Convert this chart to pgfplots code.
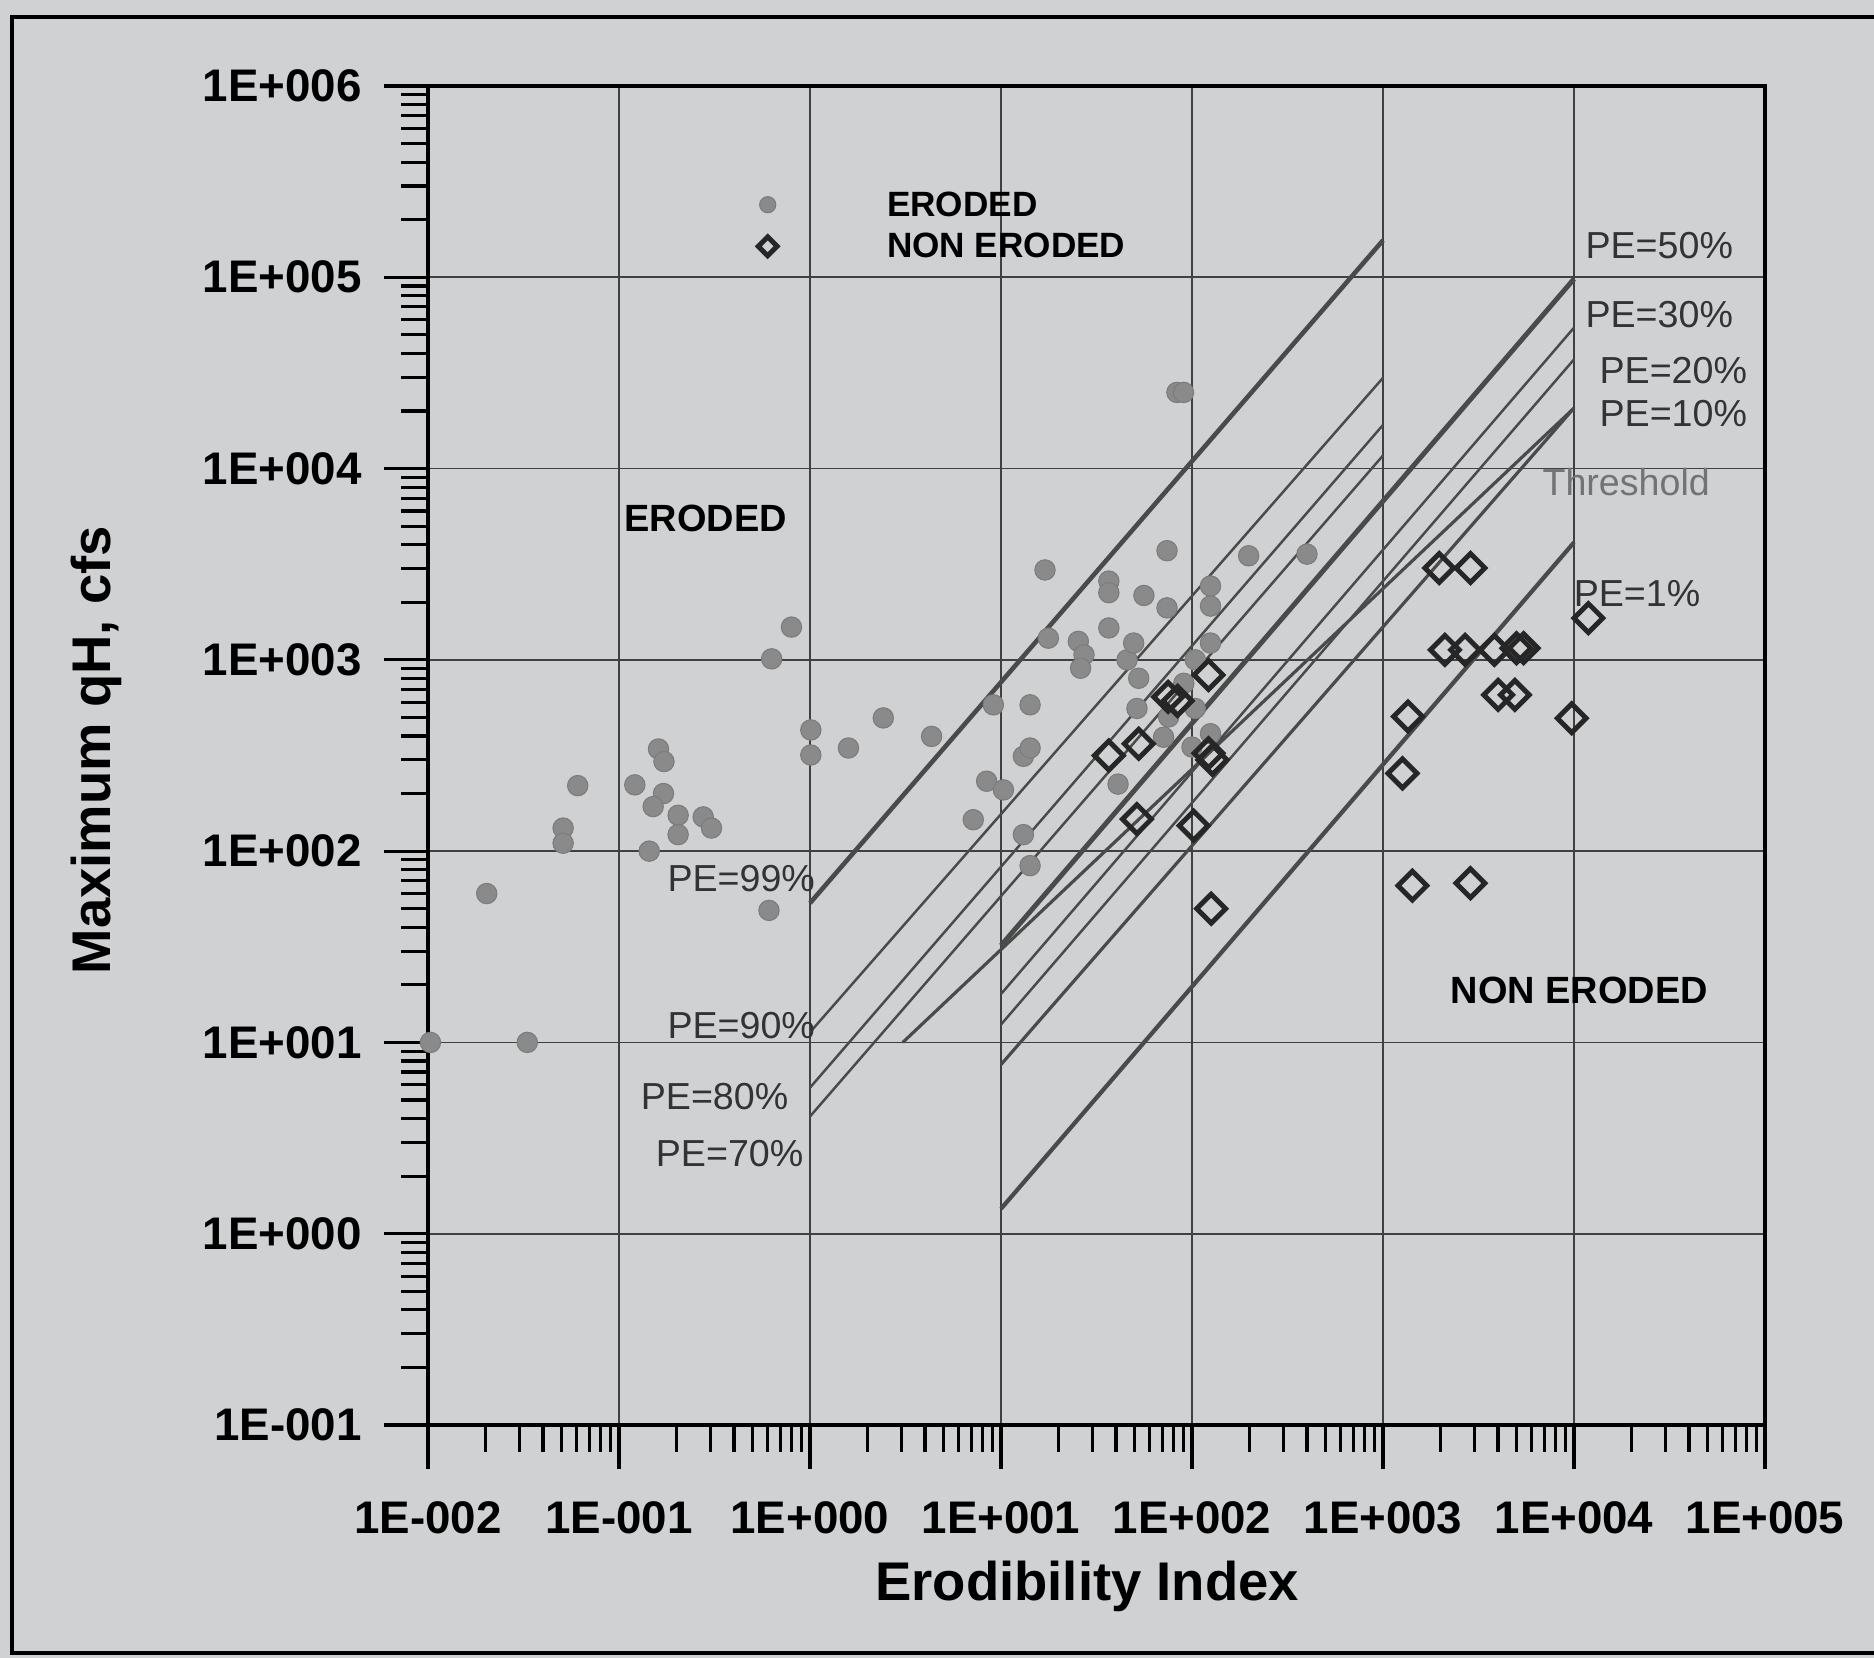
\documentclass[border=0pt]{standalone}
\usepackage{pgfplots}
\pgfplotsset{compat=1.18}
\usepackage{fontspec}
\setmainfont{Liberation Sans}
\definecolor{paper}{HTML}{CFD1D3}
\definecolor{dots}{HTML}{8A8A8A}
\definecolor{pelines}{HTML}{4A4A4A}
\definecolor{mrk}{HTML}{262626}
\pgfplotsset{
  eroimg/.style={legend image code/.code={\draw[##1, mark size=2.3pt] plot coordinates {(0cm,0.02cm)};}},
  nonimg/.style={legend image code/.code={\draw[##1, mark size=1.9pt, line width=0.9pt] plot coordinates {(0cm,0.02cm)};}},
}

\begin{document}
\begin{tikzpicture}
% scanned page background and frame
\path[use as bounding box, fill=paper] (-4.28,-2.33) rectangle (14.46,14.25);
\draw[line width=1.2pt] (14.46,14.08) -- (-4.16,14.08) -- (-4.16,-2.28) -- (14.46,-2.28);

\begin{axis}[
    at={(0,0)}, anchor=south west,
    scale only axis, width=13.37cm, height=13.39cm,
    xmode=log, ymode=log,
    xmin=1e-2, xmax=1e5, ymin=1e-1, ymax=1e6,
    clip=false,
    axis line style={line width=1.4pt, black},
    tick align=outside, xtick pos=bottom, ytick pos=left,
    major tick length=0.44cm, minor tick length=0.27cm,
    every tick/.style={black, line width=0.9pt},
    grid=major, major grid style={draw=black!75, line width=0.5pt},
    xtick={1e-2,1e-1,1,10,100,1000,1e4,1e5},
    xticklabels={1E-002,1E-001,1E+000,1E+001,1E+002,1E+003,1E+004,1E+005},
    ytick={1e-1,1,10,100,1000,1e4,1e5,1e6},
    yticklabels={1E-001,1E+000,1E+001,1E+002,1E+003,1E+004,1E+005,1E+006},
    minor xtick={0.02,0.03,0.04,0.05,0.06,0.07,0.08,0.09,0.2,0.3,0.4,0.5,0.6,0.7,0.8,0.9,2,3,4,5,6,7,8,9,20,30,40,50,60,70,80,90,200,300,400,500,600,700,800,900,2000,3000,4000,5000,6000,7000,8000,9000,20000,30000,40000,50000,60000,70000,80000,90000},
    minor ytick={0.2,0.3,0.4,0.5,0.6,0.7,0.8,0.9,2,3,4,5,6,7,8,9,20,30,40,50,60,70,80,90,200,300,400,500,600,700,800,900,2000,3000,4000,5000,6000,7000,8000,9000,20000,30000,40000,50000,60000,70000,80000,90000,200000,300000,400000,500000,600000,700000,800000,900000},
    tick label style={font=\fontsize{13}{15}\selectfont\bfseries},
    xticklabel style={yshift=-0.2cm},
    yticklabel style={xshift=-0.1cm},
    xlabel={Erodibility Index},
    ylabel={Maximum qH, cfs},
    label style={font=\fontsize{15.5}{18}\selectfont\bfseries},
    x label style={at={(axis description cs:0.493,-0.1203)}, anchor=center},
    y label style={at={(axis description cs:-0.248,0.504)}, anchor=center},
    legend style={at={(axis description cs:0.2465,0.9215)}, anchor=north west,
        draw=none, fill=none, inner sep=0pt, row sep=0.118cm,
        font=\fontsize{10}{12}\selectfont\bfseries, nodes={inner sep=0pt},
        /tikz/every odd column/.append style={column sep=1.10cm}},
    legend cell align=left,
]

% eroded cases
\addplot[only marks, mark=*, mark size=2.9pt,
    mark options={draw=dots!90!black, fill=dots, line width=0.3pt}, eroimg]
coordinates {
(0.0103,10) (0.0331,10) (0.0203,60) (0.051,132) (0.051,110) (0.0608,220)
(0.121,222) (0.161,342) (0.172,294) (0.171,200) (0.151,171) (0.204,154)
(0.204,122) (0.276,151) (0.305,132) (0.144,100) (0.61,49) (0.63,1012)
(0.80,1483) (1.01,430) (1.01,318) (1.59,346) (2.42,497) (4.33,398)
(7.16,146) (8.41,232) (9.12,582) (10.3,209) (13.1,313) (13.1,122)
(14.2,346) (14.2,582) (14.2,84) (17.0,2950) (17.7,1298) (25.4,1249)
(27.2,1062) (26.1,904) (36.7,2580) (36.7,2245) (36.7,1468) (41,224)
(45.7,1000) (49.5,1224) (51.5,557) (52.6,801) (56,2170) (71,394)
(74,3720) (74,1870) (75.5,503) (83.4,25000) (90.3,25000) (90.6,754)
(100,350) (104,1000) (104,557) (125,2432) (125,1910) (125,1224)
(125,411) (198,3500) (400,3570)
};
\addlegendentry{ERODED}

% probability of erosion lines
\addplot[pelines, line width=1.3pt, forget plot] coordinates {(1,53.5) (1000,156000)};
\addplot[pelines, line width=0.7pt, forget plot] coordinates {(1,11.3) (1000,29800)};
\addplot[pelines, line width=0.7pt, forget plot] coordinates {(1,5.8) (1000,16900)};
\addplot[pelines, line width=0.7pt, forget plot] coordinates {(1,4.1) (1000,11700)};
\addplot[pelines, line width=1.4pt, forget plot] coordinates {(10,32.1) (10000,98000)};
\addplot[pelines, line width=0.7pt, forget plot] coordinates {(10,17.9) (10000,54500)};
\addplot[pelines, line width=0.7pt, forget plot] coordinates {(10,12.4) (10000,37200)};
\addplot[pelines, line width=0.9pt, forget plot] coordinates {(10,7.66) (10000,20700)};
\addplot[pelines, line width=0.9pt, forget plot] coordinates {(3.06,10) (10000,20700)};
\addplot[pelines, line width=1.2pt, forget plot] coordinates {(10,1.35) (10000,4110)};

% non eroded cases
\addplot[only marks, mark=square, mark size=2.9pt,
    mark options={draw=mrk, fill=paper!70!white, line width=1.4pt, rotate=45}, nonimg]
coordinates {
(36.7,316) (52.6,364) (51.5,147) (75,640) (84,610) (102,136) (122,834)
(122,325) (128,300) (126,50) (1265,255) (1352,506) (1426,66) (2870,68)
(1970,3020) (2870,3020) (2110,1128) (2690,1128) (3830,1128) (5000,1151)
(5450,1151) (4010,656) (4900,656) (9730,495) (11900,1653)
};
\addlegendentry{NON ERODED}

% labels
\begin{scope}[every node/.style={inner sep=0pt, text=black!80, font=\fontsize{10.7}{12}\selectfont}]
\node[anchor=west] at (axis cs:11400,147000) {PE=50\%};
\node[anchor=west] at (axis cs:11400,63800) {PE=30\%};
\node[anchor=west] at (axis cs:13500,32400) {PE=20\%};
\node[anchor=west] at (axis cs:13500,19500) {PE=10\%};
\node[anchor=west, text=black!55] at (axis cs:6790,8470) {Threshold};
\node[anchor=west] at (axis cs:9890,2230) {PE=1\%};
\node[anchor=east] at (axis cs:1.07,72) {PE=99\%};
\node[anchor=east] at (axis cs:1.07,12.2) {PE=90\%};
\node[anchor=east] at (axis cs:0.776,5.19) {PE=80\%};
\node[anchor=east] at (axis cs:0.93,2.62) {PE=70\%};
\end{scope}
\node[anchor=west, inner sep=0pt, font=\fontsize{10.8}{13}\selectfont\bfseries] at (axis cs:0.106,5510) {ERODED};
\node[anchor=west, inner sep=0pt, font=\fontsize{10.8}{13}\selectfont\bfseries] at (axis cs:2245,18.6) {NON ERODED};
\end{axis}
\end{tikzpicture}
\end{document}
